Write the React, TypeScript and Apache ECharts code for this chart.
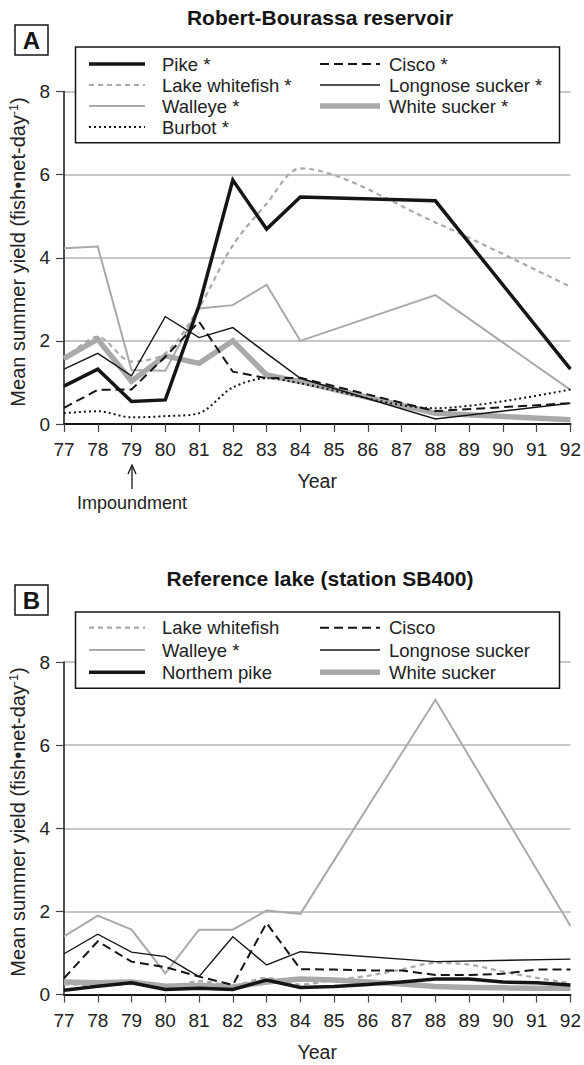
import React, { useEffect, useRef } from 'react';
import * as echarts from 'echarts';

// ---------- data ----------
const yearTicks = [77, 78, 79, 80, 81, 82, 83, 84, 85, 86, 87, 88, 89, 90, 91, 92];
const yieldTicks = [0, 2, 4, 6, 8];

// Panel A: Robert-Bourassa reservoir (sampled years)
const yearsA = [77, 78, 79, 80, 81, 82, 83, 84, 88, 92];
const pikeA = [0.91, 1.32, 0.54, 0.58, 2.85, 5.87, 4.69, 5.46, 5.37, 1.32];
const ciscoA = [0.39, 0.82, 0.83, 1.62, 2.46, 1.26, 1.1, 1.11, 0.31, 0.5];
const whitefishA = [1.55, 2.1, 1.5, 1.7, 2.8, 4.3, 5.3, 6.15, 4.85, 3.3];
const longnoseA = [1.32, 1.7, 1.16, 2.58, 2.08, 2.32, 1.7, 1.1, 0.12, 0.5];
const walleyeA = [4.23, 4.27, 1.3, 1.28, 2.78, 2.86, 3.35, 2.0, 3.1, 0.82];
const whiteSuckerA = [1.58, 2.04, 1.03, 1.64, 1.46, 2.0, 1.18, 1.02, 0.26, 0.1];
const burbotA = [0.26, 0.31, 0.16, 0.19, 0.26, 0.88, 1.1, 0.98, 0.38, 0.83];

// Panel B: Reference lake (station SB400)
const yearsBSparse = [77, 78, 79, 80, 81, 82, 83, 84, 88, 92];
const yearsBFull = [77, 78, 79, 80, 81, 82, 83, 84, 85, 86, 87, 88, 89, 90, 91, 92];
const walleyeB = [1.4, 1.9, 1.56, 0.51, 1.56, 1.56, 2.02, 1.94, 7.09, 1.65];
const longnoseB = [0.98, 1.45, 1.02, 0.91, 0.43, 1.39, 0.71, 1.03, 0.79, 0.85];
const ciscoB = [0.39, 1.28, 0.79, 0.66, 0.43, 0.23, 1.72, 0.61, 0.6, 0.58, 0.58, 0.47, 0.47, 0.5, 0.6, 0.6];
const pikeB = [0.1, 0.2, 0.28, 0.12, 0.15, 0.12, 0.35, 0.17, 0.19, 0.24, 0.3, 0.37, 0.37, 0.3, 0.28, 0.23];
const whiteSuckerB = [0.3, 0.28, 0.3, 0.2, 0.22, 0.18, 0.3, 0.37, 0.35, 0.3, 0.25, 0.19, 0.17, 0.16, 0.15, 0.15];
const whitefishB = [0.25, 0.22, 0.25, 0.17, 0.32, 0.22, 0.4, 0.24, 0.35, 0.45, 0.6, 0.76, 0.72, 0.55, 0.4, 0.27];

const legendA1 = ['Pike *', 'Lake whitefish *', 'Walleye *', 'Burbot *'];
const legendA2 = ['Cisco *', 'Longnose sucker *', 'White sucker *'];
const legendB1 = ['Lake whitefish', 'Walleye *', 'Northem pike'];
const legendB2 = ['Cisco', 'Longnose sucker', 'White sucker'];

// ---------- styles ----------
const FONT = '"Liberation Sans", Arial, Helvetica, sans-serif';
const BLACK = '#151515';
const GRAY = '#a9a9a9';
const TXT = '#222';

type Sty = { color: string; width: number; type: any };
const ST: Record<string, Sty> = {
  pike: { color: BLACK, width: 3.5, type: 'solid' },
  cisco: { color: BLACK, width: 2, type: [9, 5] },
  whitefish: { color: GRAY, width: 2.2, type: [5, 4] },
  longnose: { color: BLACK, width: 1.4, type: 'solid' },
  walleye: { color: GRAY, width: 2, type: 'solid' },
  whiteSucker: { color: GRAY, width: 5.5, type: 'solid' },
  burbot: { color: BLACK, width: 2, type: [2, 3] },
};

const GRID_LEFT = 64;
const GRID_RIGHT = 574;
const GRID_H = 332.5;
const TOP_A = 91.5;
const TOP_B = 662;

function pairs(xs: number[], ys: number[]) {
  return xs.map((x, i) => [x, ys[i]]);
}

function line(name: string, idx: number, data: number[][], st: Sty, z: number, smooth: number | boolean = false) {
  return {
    type: 'line',
    name,
    xAxisIndex: idx,
    yAxisIndex: idx,
    data,
    showSymbol: false,
    symbol: 'none',
    smooth,
    z,
    lineStyle: { color: st.color, width: st.width, type: st.type, cap: 'butt', join: 'miter' },
    itemStyle: { color: st.color },
  };
}

function xAxis(idx: number) {
  return {
    type: 'value',
    gridIndex: idx,
    min: yearTicks[0],
    max: yearTicks[yearTicks.length - 1],
    interval: 1,
    name: 'Year',
    nameLocation: 'middle',
    nameGap: 47,
    nameTextStyle: { fontFamily: FONT, fontSize: 19.5, color: TXT },
    axisLine: { show: true, onZero: false, lineStyle: { color: BLACK, width: 2 } },
    axisTick: { show: true, length: 8, lineStyle: { color: '#444', width: 1.2 } },
    axisLabel: {
      fontFamily: FONT,
      fontSize: 19,
      color: TXT,
      margin: 16,
      formatter: (v: number) => (yearTicks.includes(v) ? String(v) : ''),
    },
    splitLine: { show: false },
  };
}

function yAxis(idx: number) {
  return {
    type: 'value',
    gridIndex: idx,
    min: yieldTicks[0],
    max: yieldTicks[yieldTicks.length - 1],
    interval: 2,
    axisLine: { show: true, lineStyle: { color: BLACK, width: 1.5 } },
    axisTick: { show: true, length: 8, lineStyle: { color: '#444', width: 1.2 } },
    axisLabel: { fontFamily: FONT, fontSize: 19, color: TXT, margin: 14 },
    splitLine: { show: true, lineStyle: { color: '#b4b4b4', width: 1.5 } },
  };
}

function yTitle(cy: number) {
  return {
    type: 'text',
    x: 18,
    y: cy,
    rotation: Math.PI / 2,
    style: {
      text: 'Mean summer yield (fish•net-day{sup|-1})',
      fontFamily: FONT,
      fontSize: 20,
      fill: TXT,
      textAlign: 'center',
      textVerticalAlign: 'middle',
      rich: { sup: { fontFamily: FONT, fontSize: 12.5, fill: TXT, verticalAlign: 'top', padding: [0, 0, 9, 0] } },
    },
    z: 101,
  };
}

function legendGraphics(top: number, bottom: number, rows: number[], col1: string[], col1St: Sty[], col2: string[], col2St: Sty[]) {
  const els: any[] = [
    {
      type: 'rect',
      shape: { x: 75.5, y: top, width: 484, height: bottom - top },
      style: { fill: '#fff', stroke: BLACK, lineWidth: 1.5 },
      z: 100,
    },
  ];
  const add = (names: string[], sts: Sty[], lx1: number, lx2: number, tx: number) => {
    names.forEach((n, i) => {
      const s = sts[i];
      els.push({
        type: 'line',
        shape: { x1: lx1, y1: rows[i], x2: lx2, y2: rows[i] },
        style: {
          stroke: s.color,
          lineWidth: s.width,
          lineDash: Array.isArray(s.type) ? s.type : null,
        },
        z: 101,
      });
      els.push({
        type: 'text',
        x: tx,
        y: rows[i],
        style: { text: n, fontFamily: FONT, fontSize: 18.5, fill: TXT, textAlign: 'left', textVerticalAlign: 'middle' },
        z: 101,
      });
    });
  };
  add(col1, col1St, 89, 145, 162);
  add(col2, col2St, 320, 380, 389);
  return els;
}

function panelLabel(letter: string, y: number) {
  return [
    { type: 'rect', shape: { x: 15, y, width: 33, height: 30 }, style: { fill: '#fff', stroke: BLACK, lineWidth: 1.5 }, z: 100 },
    {
      type: 'text',
      x: 31.5,
      y: y + 15.5,
      style: { text: letter, fontFamily: FONT, fontSize: 24, fontWeight: 'bold', fill: BLACK, textAlign: 'center', textVerticalAlign: 'middle' },
      z: 101,
    },
  ];
}

function title(text: string, y: number) {
  return {
    type: 'text',
    x: 320,
    y,
    style: { text, fontFamily: FONT, fontSize: 21, fontWeight: 'bold', fill: BLACK, textAlign: 'center', textVerticalAlign: 'middle' },
    z: 101,
  };
}

function buildOption() {
  const seriesA = [
    line('White sucker *', 0, pairs(yearsA, whiteSuckerA), ST.whiteSucker, 2),
    line('Walleye *', 0, pairs(yearsA, walleyeA), ST.walleye, 3),
    line('Lake whitefish *', 0, pairs(yearsA, whitefishA), ST.whitefish, 4, 0.3),
    line('Longnose sucker *', 0, pairs(yearsA, longnoseA), ST.longnose, 5),
    line('Cisco *', 0, pairs(yearsA, ciscoA), ST.cisco, 6),
    line('Burbot *', 0, pairs(yearsA, burbotA), ST.burbot, 7, 0.3),
    line('Pike *', 0, pairs(yearsA, pikeA), ST.pike, 8),
  ];
  const seriesB = [
    line('White sucker', 1, pairs(yearsBFull, whiteSuckerB), ST.whiteSucker, 2),
    line('Walleye * ', 1, pairs(yearsBSparse, walleyeB), ST.walleye, 3),
    line('Lake whitefish', 1, pairs(yearsBFull, whitefishB), ST.whitefish, 4, 0.3),
    line('Longnose sucker', 1, pairs(yearsBSparse, longnoseB), ST.longnose, 5),
    line('Cisco', 1, pairs(yearsBFull, ciscoB), ST.cisco, 6),
    line('Northem pike', 1, pairs(yearsBFull, pikeB), ST.pike, 8),
  ];

  const graphic: any[] = [
    title('Robert-Bourassa reservoir', 17),
    title('Reference lake (station SB400)', 578),
    ...panelLabel('A', 25),
    ...panelLabel('B', 585),
    ...legendGraphics(47, 142.7, [64, 85, 106, 127], legendA1, [ST.pike, ST.whitefish, ST.walleye, ST.burbot], legendA2, [ST.cisco, ST.longnose, ST.whiteSucker]),
    ...legendGraphics(612, 688.3, [627.7, 650, 672.3], legendB1, [ST.whitefish, ST.walleye, ST.pike], legendB2, [ST.cisco, ST.longnose, ST.whiteSucker]),
    yTitle(252),
    yTitle(822),
    {
      type: 'text',
      x: 132,
      y: 503,
      style: { text: 'Impoundment', fontFamily: FONT, fontSize: 18, fill: TXT, textAlign: 'center', textVerticalAlign: 'middle' },
      z: 101,
    },
    { type: 'line', shape: { x1: 132, y1: 489, x2: 132, y2: 466 }, style: { stroke: BLACK, lineWidth: 1.3 }, z: 101 },
    { type: 'polyline', shape: { points: [[128, 474], [132, 465], [136, 474]] }, style: { stroke: BLACK, lineWidth: 1.3, fill: null }, z: 101 },
  ];

  return {
    animation: false,
    backgroundColor: '#fff',
    grid: [
      { left: GRID_LEFT, width: GRID_RIGHT - GRID_LEFT, top: TOP_A, height: GRID_H, containLabel: false },
      { left: GRID_LEFT, width: GRID_RIGHT - GRID_LEFT, top: TOP_B, height: GRID_H, containLabel: false },
    ],
    xAxis: [xAxis(0), xAxis(1)],
    yAxis: [yAxis(0), yAxis(1)],
    series: [...seriesA, ...seriesB],
    graphic,
  };
}

export default function App() {
  const ref = useRef<HTMLDivElement>(null);
  useEffect(() => {
    if (!ref.current) return;
    const chart = echarts.init(ref.current, null, { renderer: 'svg' });
    chart.setOption(buildOption() as any);
    return () => chart.dispose();
  }, []);
  return (
    <div
      ref={ref}
      style={{ position: 'absolute', left: 0, top: 0, width: 584, height: 1065, background: '#fff' }}
    />
  );
}
